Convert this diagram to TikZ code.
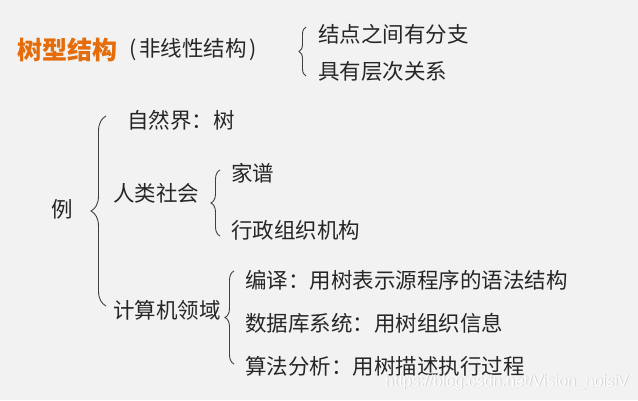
\documentclass[tikz,border=0pt]{standalone}
\usepackage{fontspec}
\setmainfont{Noto Sans CJK SC}
\newfontfamily\wmfont{Liberation Sans}
\usetikzlibrary{decorations.pathreplacing}
\definecolor{bg}{HTML}{F2F2F2}
\definecolor{txt}{HTML}{262626}
\definecolor{titlec}{HTML}{E46C0A}
\definecolor{brc}{HTML}{404040}
\begin{document}
\begin{tikzpicture}[x=1pt,y=-1pt,
  lbl/.style={anchor=west, inner sep=0pt, text=txt, font=\fontsize{21.5}{22}\selectfont},
  wmstyle/.style={anchor=west, inner sep=0pt, font=\wmfont\fontsize{16}{16}\selectfont},
  bracebox/.style={draw=brc, line width=0.9pt, decorate, decoration={brace, amplitude=#1}},
]
\fill[bg] (0,0) rectangle (638,400);
\useasboundingbox (0,0) rectangle (638,400);

% title
\node[lbl, text=titlec, font=\fontsize{25}{26}\selectfont\bfseries] (title) at (17,50) {树型结构};
\node[lbl] (sub) at (129,50) {(\hspace{3pt}非线性结构\hspace{3pt})};
\coordinate (t1) at (306,27);
\coordinate (t2) at (306,76);
\draw[bracebox=7pt] (t2) -- (t1);
\node[lbl] (p1) at (318,34) {结点之间有分支};
\node[lbl] (p2) at (318,71) {具有层次关系};

% example
\node[lbl] (ex) at (51,209) {例};
\coordinate (b1) at (106,116);
\coordinate (b2) at (106,306);
\draw[bracebox=15pt] (b2) -- (b1);
\node[lbl] (nat) at (127,120) {自然界：树};
\node[lbl] (soc) at (113,193) {人类社会};
\node[lbl] (comp) at (113,310) {计算机领域};

\coordinate (s1) at (220,170);
\coordinate (s2) at (220,236);
\draw[bracebox=9pt] (s2) -- (s1);
\node[lbl] (fam) at (231,173) {家谱};
\node[lbl] (adm) at (231,230) {行政组织机构};

\coordinate (c1) at (234,271);
\coordinate (c2) at (234,364);
\draw[bracebox=9pt] (c2) -- (c1);
\node[lbl] (k1) at (245,280) {编译：用树表示源程序的语法结构};
\node[lbl] (k2) at (245,323) {数据库系统：用树组织信息};
\node[lbl] (k3) at (245,366) {算法分析：用树描述执行过程};

% watermark
\node[wmstyle, text=black!22] (wm0) at (385.7,382.7) {https://blog.csdn.net/Vision\_noisiV};
\node[wmstyle, text=white] (wm) at (385,382) {https://blog.csdn.net/Vision\_noisiV};
\end{tikzpicture}
\end{document}
